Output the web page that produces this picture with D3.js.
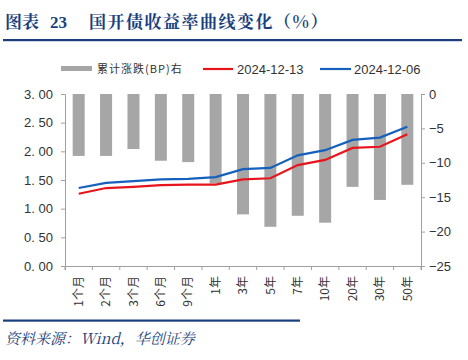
<!DOCTYPE html>
<html><head><meta charset="utf-8">
<script src="https://cdn.jsdelivr.net/npm/d3@7"></script>
<style>body{margin:0;background:#fff;} svg{display:block;}</style>
</head><body>
<svg id="c" width="468" height="360"></svg>
<script>
const categories = ["1个月","2个月","3个月","6个月","9个月","1年","3年","5年","7年","10年","20年","30年","50年"];
const bpChange = [-9.0,-9.0,-8.0,-9.7,-9.9,-13.0,-17.5,-19.3,-17.7,-18.7,-13.5,-15.4,-13.2];
const yield1213 = [1.26,1.36,1.38,1.41,1.42,1.42,1.51,1.53,1.76,1.85,2.06,2.08,2.30];
const yield1206 = [1.36,1.45,1.48,1.51,1.52,1.55,1.69,1.71,1.93,2.02,2.20,2.24,2.43];
const leftTicks = [0,0.5,1,1.5,2,2.5,3];
const rightTicks = [0,-5,-10,-15,-20,-25];
const seriesNames = ["累计涨跌(BP)右","2024-12-13","2024-12-06"];

const svg = d3.select("#c");
const L = 65, R = 421, T = 94, B = 266;
const x = d3.scaleBand().domain(categories).range([L,R]);
const yL = d3.scaleLinear().domain([0,3]).range([B,T]);
const yR = d3.scaleLinear().domain([-25,0]).range([B,T]);
const navy = "#1a3f7c";
const titleFont = "'Noto Serif CJK SC','Noto Sans CJK SC',serif";

// Title
svg.append("text").attr("x",5).attr("y",28).attr("fill",navy)
  .attr("font-family",titleFont).attr("font-weight","bold").attr("font-size",17)
  .text("图表");
svg.append("text").attr("x",50).attr("y",28).attr("fill",navy)
  .attr("font-family","'Liberation Serif',serif").attr("font-weight","bold").attr("font-size",17)
  .text("23");
svg.append("text").attr("x",89).attr("y",28).attr("fill",navy)
  .attr("font-family",titleFont).attr("font-weight","bold").attr("font-size",17)
  .attr("letter-spacing",1.5)
  .text("国开债收益率曲线变化（%）");
svg.append("rect").attr("x",3).attr("y",39).attr("width",459).attr("height",2.2).attr("fill",navy);

// Bars
const bw = 12;
svg.append("g").selectAll("rect").data(bpChange).join("rect")
  .attr("x",(d,i)=>x(categories[i])+x.bandwidth()/2-bw/2)
  .attr("y",yR(0)).attr("width",bw).attr("height",d=>yR(d)-yR(0))
  .attr("fill","#a6a6a6");

// Axes
const axisColor = "#a0a0a0";
const fmtL = d => d3.format(".2f")(d).replace(".",". ");
const gL = svg.append("g").attr("transform",`translate(${L},0)`)
  .call(d3.axisLeft(yL).tickValues(leftTicks).tickSize(4).tickFormat(fmtL));
const gR = svg.append("g").attr("transform",`translate(${R},0)`)
  .call(d3.axisRight(yR).tickValues(rightTicks).tickSize(4).tickFormat(d=>d===0?"0":"−"+Math.abs(d)));
const gX = svg.append("g").attr("transform",`translate(0,${B})`)
  .call(d3.axisBottom(x).tickSize(4).tickSizeOuter(4));
gX.selectAll(".tick line").attr("transform",`translate(${-x.bandwidth()/2},0)`);
gX.append("line").attr("x1",R).attr("x2",R).attr("y1",0).attr("y2",4).attr("stroke",axisColor);
[gL,gR,gX].forEach(g=>{
  g.selectAll("path.domain").attr("stroke",axisColor);
  g.selectAll(".tick line").attr("stroke",axisColor);
  g.selectAll("text").attr("fill","#333").attr("font-family","Arial, 'Liberation Sans', sans-serif").attr("font-size",13);
});
gL.selectAll("text").attr("x",-12);
gR.selectAll("text").attr("x",8);
gX.selectAll("text").attr("transform","rotate(-90)").attr("text-anchor","end")
  .attr("x",-10).attr("y",0).attr("dy","0.35em").attr("font-size",12)
  .attr("font-family","'Noto Sans CJK SC', sans-serif");

// Lines
const line = d3.line().x((d,i)=>x(categories[i])+x.bandwidth()/2).y(d=>yL(d));
svg.append("path").datum(yield1206).attr("d",line).attr("fill","none").attr("stroke","#1560bd").attr("stroke-width",2.2);
svg.append("path").datum(yield1213).attr("d",line).attr("fill","none").attr("stroke","#e8141c").attr("stroke-width",2.2);

// Legend
const lg = svg.append("g").attr("font-size",12).attr("fill","#333");
lg.append("rect").attr("x",61).attr("y",66).attr("width",31).attr("height",5).attr("fill","#a6a6a6");
lg.append("text").attr("x",97).attr("y",69).attr("dy","0.35em").attr("font-family","'Noto Sans CJK SC',sans-serif").attr("font-size",11).attr("letter-spacing",1).text(seriesNames[0]);
lg.append("line").attr("x1",203).attr("x2",233).attr("y1",69).attr("y2",69).attr("stroke","#e8141c").attr("stroke-width",2.2);
lg.append("text").attr("x",237).attr("y",69).attr("dy","0.35em").attr("font-family","Arial,'Liberation Sans',sans-serif").attr("font-size",13).text(seriesNames[1]);
lg.append("line").attr("x1",320).attr("x2",351).attr("y1",69).attr("y2",69).attr("stroke","#1560bd").attr("stroke-width",2.2);
lg.append("text").attr("x",354).attr("y",69).attr("dy","0.35em").attr("font-family","Arial,'Liberation Sans',sans-serif").attr("font-size",13).text(seriesNames[2]);

// Footer
svg.append("rect").attr("x",3).attr("y",319.5).attr("width",297).attr("height",2.2).attr("fill",navy);
svg.append("text").attr("x",5).attr("y",344).attr("fill",navy)
  .attr("font-family","'Noto Serif CJK SC','Liberation Serif',serif").attr("font-style","italic").attr("font-size",15)
  .text("资料来源：Wind，华创证券");
</script>
</body></html>
